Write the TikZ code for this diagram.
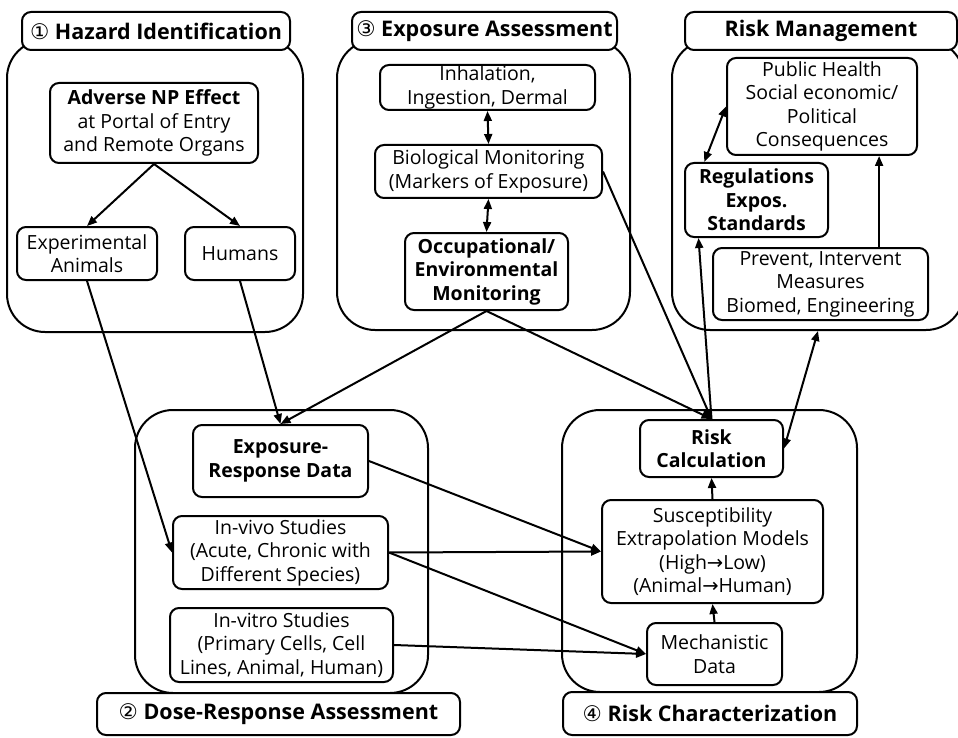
\documentclass[tikz,border=0pt]{standalone}
\usepackage{fontspec}
\setmainfont{Open Sans}
\newfontfamily\symf{DejaVu Sans}
\usetikzlibrary{arrows.meta,calc}
\begin{document}
\begin{tikzpicture}[x=1pt,y=-1pt,
  grp/.style={draw, line width=2pt, rounded corners=38pt, inner sep=0pt},
  box/.style={draw, line width=2pt, rounded corners=9pt, fill=white, align=center, inner sep=0pt, font=\fontsize{19.5}{23.5}\selectfont},
  bbox/.style={box, font=\fontsize{19.5}{23.5}\selectfont\bfseries},
  ttl/.style={box, font=\fontsize{21.5}{24}\selectfont\bfseries},
  arr/.style={-{Triangle[length=10pt,width=8pt]}, line width=2pt},
  darr/.style={{Triangle[length=10pt,width=8pt]}-{Triangle[length=10pt,width=8pt]}, line width=2pt}]
\useasboundingbox (0,0) rectangle (958,738);
% containers
\node[grp, minimum width=296pt, minimum height=292pt] (hazg) at (155,186) {};
\node[grp, minimum width=293pt, minimum height=290pt] (expg) at (483.5,185) {};
\node[grp, minimum width=292pt, minimum height=290pt] (rmg) at (818,185) {};
\node[grp, minimum width=293pt, minimum height=283pt] (drg) at (281.5,551.5) {};
\node[grp, minimum width=295pt, minimum height=282pt] (rcg) at (709.5,551) {};
% titles
\node[ttl, minimum width=268pt, minimum height=38pt] (hazt) at (156,31) {{\symf\mdseries ①} Hazard Identification};
\node[ttl, minimum width=265pt, minimum height=38pt] (expt) at (484.5,31) {{\symf\mdseries ③} Exposure Assessment};
\node[ttl, minimum width=272pt, minimum height=38pt] (rmt) at (821,31) {Risk Management};
\node[ttl, minimum width=363pt, minimum height=42pt] (drt) at (278.5,714) {{\symf\mdseries ②} Dose-Response Assessment};
\node[ttl, minimum width=294pt, minimum height=43pt] (rct) at (710,713.5) {{\symf\mdseries ④} Risk Characterization};
% hazard identification
\node[box, minimum width=208pt, minimum height=80pt] (adv) at (154,123) {\textbf{Adverse NP Effect}\\at Portal of Entry\\and Remote Organs};
\node[box, minimum width=140pt, minimum height=53pt] (anim) at (87,253.5) {Experimental\\Animals};
\node[box, minimum width=110pt, minimum height=53pt] (hum) at (240,253.5) {Humans};
% exposure assessment
\node[box, minimum width=215pt, minimum height=45pt] (inh) at (487.5,87.5) {Inhalation,\\Ingestion, Dermal};
\node[box, minimum width=227pt, minimum height=53pt] (bio) at (488.5,171.5) {Biological Monitoring\\(Markers of Exposure)};
\node[bbox, minimum width=163pt, minimum height=77pt] (occ) at (486.5,271.5) {Occupational/\\Environmental\\Monitoring};
% risk management
\node[box, minimum width=190pt, minimum height=97pt] (pub) at (822,106.5) {Public Health\\Social economic/\\Political\\Consequences};
\node[bbox, minimum width=143pt, minimum height=74pt] (reg) at (756.5,200) {Regulations\\Expos.\\Standards};
\node[box, minimum width=215pt, minimum height=72pt] (prev) at (820.5,284) {Prevent, Intervent\\Measures\\Biomed, Engineering};
% dose-response
\node[bbox, minimum width=175pt, minimum height=72pt] (er) at (280.5,461) {Exposure-\\Response Data};
\node[box, minimum width=215pt, minimum height=73pt] (vivo) at (280.5,552.5) {In-vivo Studies\\(Acute, Chronic with\\Different Species)};
\node[box, minimum width=223pt, minimum height=74pt] (vitro) at (281.5,645) {In-vitro Studies\\(Primary Cells, Cell\\Lines, Animal, Human)};
% risk characterization
\node[bbox, minimum width=143pt, minimum height=57pt] (rc) at (711.5,448.5) {Risk\\Calculation};
\node[box, minimum width=221pt, minimum height=103pt] (sus) at (712.5,551.5) {Susceptibility\\Extrapolation Models\\(High{\symf →}Low)\\(Animal{\symf →}Human)};
\node[box, minimum width=135pt, minimum height=62pt] (mech) at (714.5,654) {Mechanistic\\Data};
% connectors
\draw[arr] (adv.south) -- (anim.north);
\draw[arr] (adv.south) -- (hum.north);
\draw[arr] (anim.south) -- (vivo.west);
\draw[arr] (hum.south) -- (er.north);
\draw[arr] (occ.south) -- (er.north);
\draw[arr] (occ.south) -- (rc.north);
\draw[arr] (bio.east) -- (rc.north);
\coordinate (regin) at ($(reg.south west)!0.1!(reg.south east)$);
\draw[arr] (rc.north) -- (regin);
\draw[darr] (rc.east) -- (rmg.south);
\coordinate (prevout) at ($(prev.north west)!0.77!(prev.north east)$);
\draw[arr] (prevout) -- (prevout |- pub.south);
\coordinate (regtop) at ($(reg.north west)!0.14!(reg.north east)$);
\draw[darr] (pub.west) -- (regtop);
\draw[darr] (inh.south) -- (bio.north);
\draw[darr] (bio.south) -- (occ.north);
\draw[arr] (er.east) -- (sus.west);
\draw[arr] (vivo.east) -- (sus.west);
\draw[arr] (vivo.east) -- (mech.west);
\draw[arr] (vitro.east) -- (mech.west);
\draw[arr] (mech.north) -- (sus.south);
\draw[arr] (sus.north) -- (rc.south);
\end{tikzpicture}
\end{document}
